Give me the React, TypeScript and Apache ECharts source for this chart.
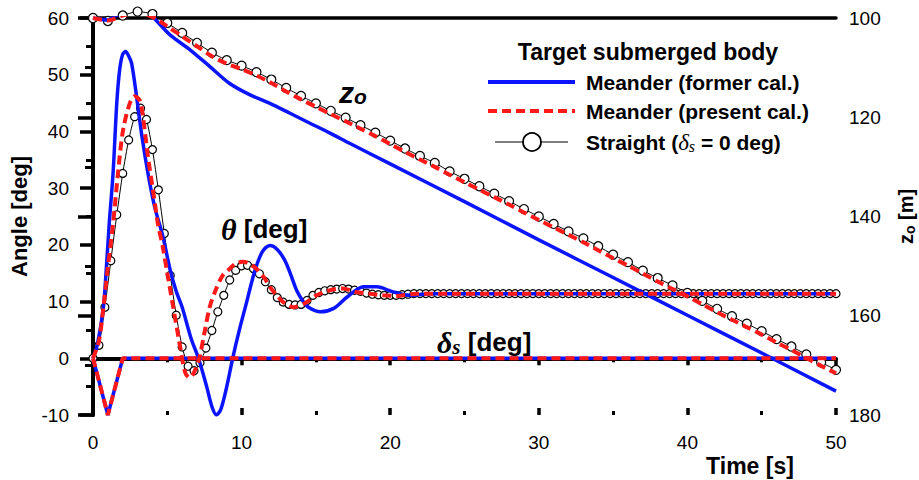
import React, { useEffect, useRef } from "react";
import * as echarts from "echarts";

// ---- data ----
// Pitch angle theta [deg], Meander (former cal.)
const thetaFormerT = [0, 0.3, 0.7, 0.9, 1.1, 1.35, 1.6, 1.8, 2.0, 2.2, 2.4, 2.6, 2.94, 3.3, 3.7, 4.15, 4.7, 5.2, 5.6, 6.0, 6.6, 7.1, 7.65, 8.0, 8.3, 8.6, 9.0, 9.4, 9.85, 10.3, 10.9, 11.4, 11.9, 12.4, 12.9, 13.3, 13.7, 14.1, 14.5, 15.3, 16.2, 17.1, 18.2, 19.1, 20.2, 21.3, 22.7, 30, 40, 50];
const thetaFormerV = [0, 2.5, 9, 16, 24, 32.6, 45, 51, 53.6, 54.1, 53.3, 52, 46, 39, 32.6, 26.7, 21.5, 15.5, 11.8, 9, 3.5, 0, -5, -8.5, -10, -9, -5, 0, 5, 9.5, 15.5, 18.8, 19.9, 19.2, 17.3, 14.8, 12, 10.2, 9, 8.2, 8.8, 10.8, 12.6, 12.6, 11.7, 11.1, 11.4, 11.4, 11.4, 11.4];

// Pitch angle theta [deg], Meander (present cal.)
const thetaPresentT = [0, 0.4, 0.7, 1.0, 1.35, 1.68, 2.02, 2.47, 2.8, 3.14, 3.36, 3.7, 4.04, 4.37, 4.7, 5.0, 5.4, 5.8, 6.2, 6.5, 6.8, 7.15, 7.5, 7.85, 8.25, 8.7, 9.2, 9.6, 10.1, 10.5, 11.0, 11.5, 11.9, 12.4, 12.8, 13.5, 14.2, 15.05, 15.95, 16.8, 17.7, 18.6, 19.5, 20.4, 21.8, 30, 40, 50];
const thetaPresentV = [0, 3, 9, 16, 23.7, 32.6, 40.2, 44.9, 46.2, 45.5, 42.6, 35.5, 29.6, 23.7, 19.6, 15, 9, 3, -2.5, -3.4, -2.5, 0, 4.5, 9, 12, 14.5, 15.8, 16.7, 17.0, 16.7, 15.8, 14.3, 12.6, 11.0, 9.9, 9.0, 9.6, 11.1, 12.0, 12.3, 11.7, 11.4, 11.1, 11.0, 11.4, 11.4, 11.4, 11.4];

// Pitch angle theta [deg], Straight, one marker every 0.4 s (t = 0 ... 50)
const thetaStraightStep = 0.4;
const thetaStraightV = [
  0, 2.3, 9.0, 17.2, 25.3, 32.6, 38.5, 42.6, 44.1, 42.1,
  36.8, 29.7, 22.0, 14.6, 7.6, 2.0, -1.4, -2.2, -0.8, 1.8,
  4.9, 8.2, 11.1, 13.8, 15.5, 16.3, 16.4, 15.8, 14.9, 13.5,
  12.1, 10.7, 9.9, 9.5, 9.4, 9.5, 10.2, 11.1, 11.6, 11.9,
  12.1, 12.2, 12.3, 12.2, 12.0, 11.8, 11.5, 11.3, 11.2, 11.1,
  11.1, 11.1, 11.2, 11.3, 11.4, 11.4, 11.4, 11.4, 11.4, 11.4,
  11.4, 11.4, 11.4, 11.4, 11.4, 11.4, 11.4, 11.4, 11.4, 11.4,
  11.4, 11.4, 11.4, 11.4, 11.4, 11.4, 11.4, 11.4, 11.4, 11.4,
  11.4, 11.4, 11.4, 11.4, 11.4, 11.4, 11.4, 11.4, 11.4, 11.4,
  11.4, 11.4, 11.4, 11.4, 11.4, 11.4, 11.4, 11.4, 11.4, 11.4,
  11.4, 11.4, 11.4, 11.4, 11.4, 11.4, 11.4, 11.4, 11.4, 11.4,
  11.4, 11.4, 11.4, 11.4, 11.4, 11.4, 11.4, 11.4, 11.4, 11.4,
  11.4, 11.4, 11.4, 11.4, 11.4, 11.4,
];

// Stern plane angle delta_s [deg]
const deltaMeanderT = [0, 1, 2, 50];
const deltaMeanderV = [0, -10, 0, 0];
const deltaStraightT = [0, 50];
const deltaStraightV = [0, 0];

// Depth z_o [m], Meander (former cal.)
const zFormerT = [0, 1, 1.5, 2, 2.5, 3, 3.84, 5.18, 6.53, 7.87, 9.2, 10.57, 11.9, 13.26, 14.6, 15.95, 17.3, 20, 25, 30, 35, 40, 45, 50];
const zFormerV = [100, 100.4, 99.6, 99.0, 98.8, 98.9, 99.4, 103.4, 106.4, 109.8, 113.2, 115.5, 117.2, 119.2, 121.2, 123.2, 125.3, 129.4, 137.0, 144.7, 152.3, 159.9, 167.5, 175.2];

// Depth z_o [m], Meander (present cal.), every 1 s
const zPresentV = [
  100, 100.5, 99.5, 98.9, 99.8, 101.7, 103.7, 105.7, 107.7, 109.2,
  110.3, 111.6, 113.1, 114.8, 116.4, 117.9, 119.4, 120.8, 122.3, 123.8,
  125.4, 127.0, 128.5, 130.0, 131.6, 133.1, 134.6, 136.1, 137.6, 139.2,
  140.7, 142.2, 143.7, 145.2, 146.8, 148.4, 149.9, 151.5, 153.1, 154.6,
  156.1, 157.7, 159.3, 160.8, 162.3, 163.8, 165.4, 166.9, 168.5, 170.1,
  171.6,
];

// Depth z_o [m], Straight, one marker every 1 s
const zStraightV = [
  100, 100.6, 99.5, 98.7, 99.2, 101.0, 103.0, 105.0, 107.0, 108.5,
  109.6, 110.9, 112.4, 114.1, 115.7, 117.2, 118.7, 120.1, 121.6, 123.1,
  124.7, 126.3, 127.8, 129.2, 130.9, 132.4, 133.9, 135.4, 136.9, 138.5,
  140.0, 141.5, 143.0, 144.4, 146.0, 147.7, 149.2, 150.9, 152.4, 153.9,
  155.4, 157.0, 158.6, 160.1, 161.6, 163.1, 164.7, 166.2, 167.8, 169.4,
  170.9,
];
const zStep = 1;

// axis ticks
const timeTicks = { min: 0, max: 50, interval: 10 };
const angleTicks = { min: -10, max: 60, interval: 10 };
const depthTicks = { min: 100, max: 180, interval: 20 };

const pairs = (t: number[], v: number[]) => v.map((y, i) => [t[i], y]);
const stepPairs = (step: number, v: number[]) => v.map((y, i) => [Number((i * step).toFixed(3)), y]);

const SANS = "'Liberation Sans', Arial, sans-serif";
const SERIF = "'Liberation Serif', 'Times New Roman', serif";
const BLUE = "#0a14ff";
const RED = "#ff1a1a";

export default function App() {
  const ref = useRef<HTMLDivElement>(null);
  useEffect(() => {
    if (!ref.current) return;
    const chart = echarts.init(ref.current, undefined, { renderer: "svg" });

    const axisLabel = { color: "#000", fontSize: 19, fontFamily: SANS };
    const blueLine = { color: BLUE, width: 3.5 };
    const redLine = { color: RED, width: 4, type: [9, 5] as any };

    const option: any = {
      animation: false,
      backgroundColor: "#fff",
      grid: { left: 93, right: 83, top: 18, bottom: 65, containLabel: false, outerBoundsMode: "none" },
      xAxis: [
        {
          type: "value", position: "bottom", ...timeTicks,
          axisLine: { lineStyle: { color: "#000", width: 4 } },
          axisTick: { show: true, inside: false, length: 7, lineStyle: { color: "#000", width: 3.5 } },
          minorTick: { show: true, splitNumber: 2, length: 4, lineStyle: { color: "#000", width: 3 } },
          axisLabel: { ...axisLabel, margin: 18 },
          splitLine: { show: false },
        },
        {
          type: "value", position: "bottom", ...timeTicks,
          axisLine: { show: false },
          axisTick: { show: true, inside: true, length: 7, lineStyle: { color: "#000", width: 3.5 } },
          minorTick: { show: true, splitNumber: 2, length: 4, lineStyle: { color: "#000", width: 3 } },
          axisLabel: { show: false },
          splitLine: { show: false },
        },
        {
          type: "value", position: "top", ...timeTicks,
          axisLine: { lineStyle: { color: "#000", width: 3.5 } },
          axisTick: { show: false },
          axisLabel: { show: false },
          splitLine: { show: false },
        },
      ],
      yAxis: [
        {
          type: "value", position: "left", ...angleTicks,
          axisLine: { show: true, lineStyle: { color: "#000", width: 4 } },
          axisTick: { show: true, inside: false, length: 13, lineStyle: { color: "#000", width: 3.5 } },
          minorTick: { show: true, splitNumber: 2, length: 7, lineStyle: { color: "#000", width: 3 } },
          axisLabel: { ...axisLabel, margin: 24 },
          splitLine: { show: false },
          name: "Angle [deg]",
          nameLocation: "middle",
          nameGap: 56,
          nameRotate: 90,
          nameTextStyle: { color: "#000", fontSize: 22, fontWeight: "bold", fontFamily: SANS },
        },
        {
          type: "value", position: "right", inverse: true, ...depthTicks,
          axisLine: { show: true, lineStyle: { color: "#000", width: 4 } },
          axisTick: { show: true, inside: true, length: 15, lineStyle: { color: "#000", width: 3.5 } },
          minorTick: { show: true, splitNumber: 2, length: 8, lineStyle: { color: "#000", width: 3 } },
          axisLabel: { ...axisLabel, margin: 13 },
          splitLine: { show: false },
          name: "{z|z}{o|o}{n| [m]}",
          nameLocation: "middle",
          nameGap: 59,
          nameRotate: 90,
          nameTextStyle: {
            color: "#000", fontSize: 20, fontWeight: "bold", fontFamily: SANS,
            rich: {
              z: { fontSize: 20, fontWeight: "bold", fontFamily: SANS, lineHeight: 22 },
              o: { fontSize: 14, fontWeight: "bold", fontFamily: SANS, lineHeight: 14, verticalAlign: "bottom" },
              n: { fontSize: 20, fontWeight: "bold", fontFamily: SANS, lineHeight: 22 },
            },
          },
        },
      ],
      series: [
        {
          name: "delta straight", type: "line", xAxisIndex: 0, yAxisIndex: 0, z: 1,
          data: pairs(deltaStraightT, deltaStraightV), showSymbol: false,
          lineStyle: { color: "#000", width: 1 },
        },
        {
          name: "theta straight", type: "line", xAxisIndex: 0, yAxisIndex: 0, z: 1,
          data: stepPairs(thetaStraightStep, thetaStraightV), showSymbol: true, showAllSymbol: true,
          symbol: "circle", symbolSize: 8, clip: false, smooth: 0.2,
          itemStyle: { color: "#fff", borderColor: "#000", borderWidth: 1.2 },
          lineStyle: { color: "#000", width: 1 },
        },
        {
          name: "z straight", type: "line", xAxisIndex: 0, yAxisIndex: 1, z: 1,
          data: stepPairs(zStep, zStraightV), showSymbol: true, showAllSymbol: true,
          symbol: "circle", symbolSize: 9, clip: false, smooth: 0.2,
          itemStyle: { color: "#fff", borderColor: "#000", borderWidth: 1.2 },
          lineStyle: { color: "#000", width: 1 },
        },
        {
          name: "z former", type: "line", xAxisIndex: 0, yAxisIndex: 1, z: 2,
          data: pairs(zFormerT, zFormerV), showSymbol: false, smooth: 0.3,
          lineStyle: blueLine,
        },
        {
          name: "z present", type: "line", xAxisIndex: 0, yAxisIndex: 1, z: 3,
          data: stepPairs(zStep, zPresentV), showSymbol: false, smooth: 0.3,
          lineStyle: redLine,
        },
        {
          name: "theta former", type: "line", xAxisIndex: 0, yAxisIndex: 0, z: 2,
          data: pairs(thetaFormerT, thetaFormerV), showSymbol: false, smooth: 0.3,
          lineStyle: blueLine,
        },
        {
          name: "theta present", type: "line", xAxisIndex: 0, yAxisIndex: 0, z: 3,
          data: pairs(thetaPresentT, thetaPresentV), showSymbol: false, smooth: 0.3,
          lineStyle: redLine,
        },
        {
          name: "delta former", type: "line", xAxisIndex: 0, yAxisIndex: 0, z: 2,
          data: pairs(deltaMeanderT, deltaMeanderV), showSymbol: false,
          lineStyle: blueLine,
        },
        {
          name: "delta present", type: "line", xAxisIndex: 0, yAxisIndex: 0, z: 3,
          data: pairs(deltaMeanderT, deltaMeanderV), showSymbol: false,
          lineStyle: redLine,
        },
      ],
      graphic: [
        {
          type: "text", x: 648, y: 52,
          style: { text: "Target submerged body", align: "center", verticalAlign: "middle",
            font: `bold 23px ${SANS}`, fill: "#000" },
        },
        { type: "line", shape: { x1: 488, y1: 82, x2: 575, y2: 82 }, style: { stroke: BLUE, lineWidth: 4 } },
        { type: "line", shape: { x1: 488, y1: 111, x2: 575, y2: 111 }, style: { stroke: RED, lineWidth: 4, lineDash: [9, 5] } },
        { type: "line", shape: { x1: 495, y1: 142, x2: 568, y2: 142 }, style: { stroke: "#000", lineWidth: 1.2 } },
        { type: "circle", shape: { cx: 532, cy: 142, r: 9 }, style: { fill: "#fff", stroke: "#000", lineWidth: 1.8 } },
        {
          type: "text", x: 586, y: 82,
          style: { text: "Meander (former cal.)", align: "left", verticalAlign: "middle", font: `bold 21px ${SANS}`, fill: "#000" },
        },
        {
          type: "text", x: 586, y: 111,
          style: { text: "Meander (present cal.)", align: "left", verticalAlign: "middle", font: `bold 21px ${SANS}`, fill: "#000" },
        },
        {
          type: "text", x: 586, y: 142,
          style: {
            text: "{b|Straight (}{d|δ}{s|s}{b| = 0 deg)}", align: "left", verticalAlign: "middle", fill: "#000",
            rich: {
              b: { font: `bold 21px ${SANS}`, fill: "#000", lineHeight: 24 },
              d: { font: `italic 23px ${SERIF}`, fill: "#000", lineHeight: 24 },
              s: { font: `italic 16px ${SERIF}`, fill: "#000", lineHeight: 16, verticalAlign: "bottom" },
            },
          },
        },
        {
          type: "text", x: 339, y: 92,
          style: {
            text: "{z|z}{o|o}", align: "left", verticalAlign: "middle", fill: "#000",
            rich: {
              z: { font: `italic bold 30px ${SANS}`, fill: "#000", lineHeight: 30 },
              o: { font: `italic bold 21px ${SANS}`, fill: "#000", lineHeight: 21, verticalAlign: "bottom" },
            },
          },
        },
        {
          type: "text", x: 221, y: 229,
          style: {
            text: "{t|θ}{d| [deg]}", align: "left", verticalAlign: "middle", fill: "#000",
            rich: {
              t: { font: `italic bold 30px ${SERIF}`, fill: "#000", lineHeight: 30 },
              d: { font: `bold 26px ${SANS}`, fill: "#000", lineHeight: 30 },
            },
          },
        },
        {
          type: "text", x: 437, y: 342,
          style: {
            text: "{t|δ}{s|s}{d| [deg]}", align: "left", verticalAlign: "middle", fill: "#000",
            rich: {
              t: { font: `italic bold 30px ${SERIF}`, fill: "#000", lineHeight: 30 },
              s: { font: `italic bold 21px ${SERIF}`, fill: "#000", lineHeight: 21, verticalAlign: "bottom" },
              d: { font: `bold 26px ${SANS}`, fill: "#000", lineHeight: 30 },
            },
          },
        },
        {
          type: "text", x: 750, y: 466,
          style: { text: "Time [s]", align: "center", verticalAlign: "middle", font: `bold 23px ${SANS}`, fill: "#000" },
        },
      ],
    };
    chart.setOption(option);
    return () => chart.dispose();
  }, []);
  return <div ref={ref} style={{ width: 919, height: 480, position: "absolute", left: 0, top: 0 }} />;
}
